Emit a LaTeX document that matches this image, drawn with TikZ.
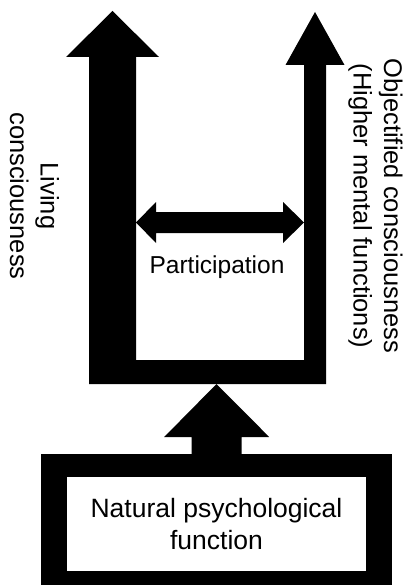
\documentclass[tikz,border=0pt]{standalone}
\usepackage{fontspec}
\setmainfont{Liberation Sans}
\usetikzlibrary{calc}
\begin{document}
\begin{tikzpicture}[x=1pt,y=-1pt,
  lbl/.style={inner sep=0pt, align=center, text=black},
  solid/.style={fill=black, draw=none},
  bigfont/.style={font=\fontsize{25.5}{30.6}\selectfont}]
\useasboundingbox (0,0) rectangle (411,585);
\clip (0,0) rectangle (411,585);
% U-shaped two-branch arrow
\coordinate (lt) at (112.5,11);
\coordinate (rt) at (315,12);
\coordinate (ubot) at (216.5,384);
\coordinate (pl) at (136,222.5);
\coordinate (pr) at (304,222.5);
\fill[solid] (lt) -- (159,57) -- (136,57) -- (136,360) -- (304,360) -- (304,65)
  -- (285.5,65) -- (rt) -- (344.5,65) -- (326,65) -- (326,384) -- (89,384)
  -- (89,57) -- (66,57) -- cycle;
% participation double arrow
\fill[solid] (pl) -- ++(20,-20.5) -- ++(0,10) -- ($(pr)+(-21,-10.5)$) -- ++(0,-10)
  -- (pr) -- ++(-21,20.5) -- ++(0,-10) -- ($(pl)+(20,10.5)$) -- ++(0,10) -- cycle;
% bottom box
\node[solid, minimum width=351pt, minimum height=150pt, inner sep=0pt, anchor=north west] (frame) at (41,454) {};
\node[fill=white, minimum width=299pt, minimum height=94pt, inner sep=0pt, align=center,
  font=\fontsize{26.5}{31.8}\selectfont] (nat) at (216.5,524) {Natural psychological\\function};
% upward arrow
\fill[solid] ($(frame.north)+(-25,0.5)$) -- ($(frame.north)+(-25,-17)$) -- ($(frame.north)+(-52.5,-17)$)
  -- (ubot) -- ($(frame.north)+(52.5,-17)$) -- ($(frame.north)+(25,-17)$) -- ($(frame.north)+(25,0.5)$) -- cycle;
% labels
\node[lbl, anchor=base, font=\fontsize{24.5}{29.4}\selectfont] (part) at (217,273) {Participation};
\node[lbl, bigfont, rotate=-90] (living) at (34.5,196) {Living\\consciousness};
\node[lbl, bigfont, rotate=-90] (obj) at (375.5,206) {Objectified consciousness\\(Higher mental functions)};
\end{tikzpicture}
\end{document}
